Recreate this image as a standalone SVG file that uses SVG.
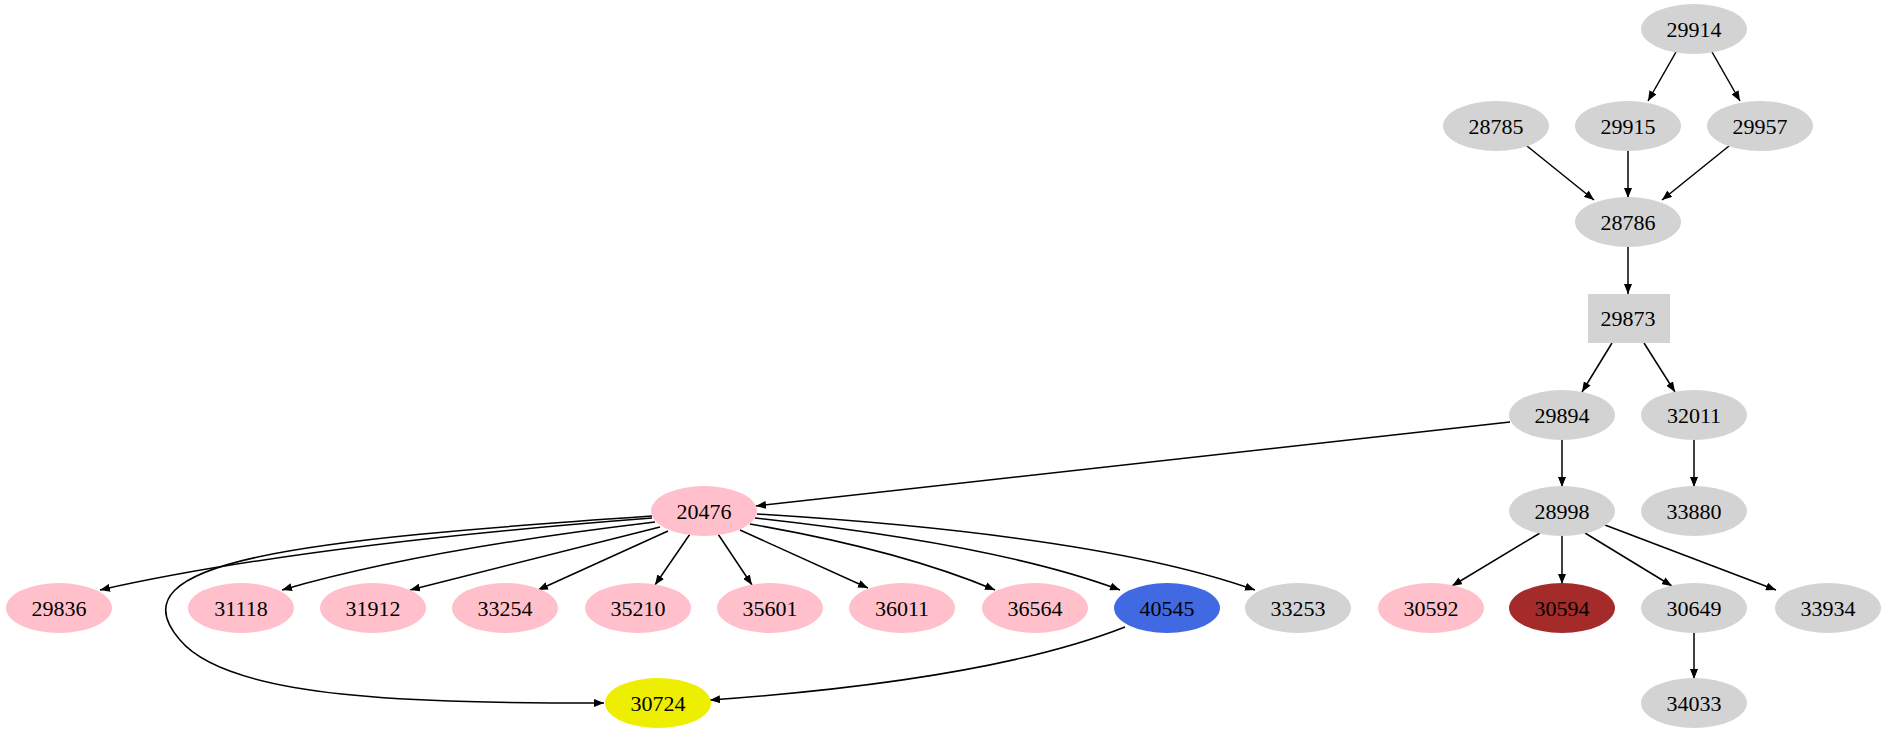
<svg xmlns="http://www.w3.org/2000/svg" width="1883" height="731" viewBox="0 0 1883 731">
<style>
text{font-family:"Liberation Serif","Times New Roman",serif;font-size:22px;text-anchor:middle;dominant-baseline:central;fill:#000}
.g{fill:#d3d3d3}.p{fill:#ffc0cb}
#edges path{fill:none;stroke:#000;stroke-width:1.5;marker-end:url(#a)}
</style>
<defs><marker id="a" markerWidth="10" markerHeight="8" refX="10" refY="4" orient="auto" markerUnits="userSpaceOnUse"><path d="M0,0L10,4L0,8z" fill="#000"/></marker></defs>
<rect width="1883" height="731" fill="#fff"/>
<g id="edges">
<path d="M1676,52L1648,101"/><path d="M1712,52L1740,101"/>
<path d="M1527,146L1594,200"/><path d="M1628,150L1628,198"/><path d="M1729,146L1662,200"/>
<path d="M1628,246L1628,294"/>
<path d="M1612,343L1582,392"/><path d="M1644,343L1675,392"/>
<path d="M1510,422L756,506"/>
<path d="M1562,439L1562,487"/><path d="M1694,439L1694,487"/>
<path d="M1540,533L1452,586"/><path d="M1562,535L1562,584"/><path d="M1585,533L1672,586"/><path d="M1605,525L1776,590"/>
<path d="M1694,632L1694,679"/>
<path d="M652,518Q300,545 100,590"/>
<path d="M655,522Q420,550 282,590"/>
<path d="M660,527L410,590"/>
<path d="M668,531L538,590"/>
<path d="M690,534L655,585"/>
<path d="M718,534L752,585"/>
<path d="M740,530L868,588"/>
<path d="M750,524Q900,550 995,590"/>
<path d="M755,518Q1000,545 1120,590"/>
<path d="M757,514Q1100,535 1255,590"/>
<path d="M652,516C300,540 110,560 180,640C230,700 420,703 604,703"/>
<path d="M1125,627Q990,680 710,700"/>
</g>
<g id="n29914"><ellipse class="g" cx="1694" cy="29" rx="53" ry="25"/><text x="1694" y="29">29914</text></g>
<g id="n28785"><ellipse class="g" cx="1496" cy="126" rx="53" ry="25"/><text x="1496" y="126">28785</text></g>
<g id="n29915"><ellipse class="g" cx="1628" cy="126" rx="53" ry="25"/><text x="1628" y="126">29915</text></g>
<g id="n29957"><ellipse class="g" cx="1760" cy="126" rx="53" ry="25"/><text x="1760" y="126">29957</text></g>
<g id="n28786"><ellipse class="g" cx="1628" cy="222" rx="53" ry="25"/><text x="1628" y="222">28786</text></g>
<g id="n29873"><rect class="g" x="1588" y="294" width="82" height="49"/><text x="1628" y="318">29873</text></g>
<g id="n29894"><ellipse class="g" cx="1562" cy="415" rx="53" ry="25"/><text x="1562" y="415">29894</text></g>
<g id="n32011"><ellipse class="g" cx="1694" cy="415" rx="53" ry="25"/><text x="1694" y="415">32011</text></g>
<g id="n20476"><ellipse class="p" cx="704" cy="511" rx="53" ry="25"/><text x="704" y="511">20476</text></g>
<g id="n28998"><ellipse class="g" cx="1562" cy="511" rx="53" ry="25"/><text x="1562" y="511">28998</text></g>
<g id="n33880"><ellipse class="g" cx="1694" cy="511" rx="53" ry="25"/><text x="1694" y="511">33880</text></g>
<g id="n29836"><ellipse class="p" cx="59" cy="608" rx="53" ry="25"/><text x="59" y="608">29836</text></g>
<g id="n31118"><ellipse class="p" cx="241" cy="608" rx="53" ry="25"/><text x="241" y="608">31118</text></g>
<g id="n31912"><ellipse class="p" cx="373" cy="608" rx="53" ry="25"/><text x="373" y="608">31912</text></g>
<g id="n33254"><ellipse class="p" cx="505" cy="608" rx="53" ry="25"/><text x="505" y="608">33254</text></g>
<g id="n35210"><ellipse class="p" cx="638" cy="608" rx="53" ry="25"/><text x="638" y="608">35210</text></g>
<g id="n35601"><ellipse class="p" cx="770" cy="608" rx="53" ry="25"/><text x="770" y="608">35601</text></g>
<g id="n36011"><ellipse class="p" cx="902" cy="608" rx="53" ry="25"/><text x="902" y="608">36011</text></g>
<g id="n36564"><ellipse class="p" cx="1035" cy="608" rx="53" ry="25"/><text x="1035" y="608">36564</text></g>
<g id="n40545"><ellipse fill="#4169e1" cx="1167" cy="608" rx="53" ry="25"/><text x="1167" y="608">40545</text></g>
<g id="n33253"><ellipse class="g" cx="1298" cy="608" rx="53" ry="25"/><text x="1298" y="608">33253</text></g>
<g id="n30592"><ellipse class="p" cx="1431" cy="608" rx="53" ry="25"/><text x="1431" y="608">30592</text></g>
<g id="n30594"><ellipse fill="#a52a2a" cx="1562" cy="608" rx="53" ry="25"/><text x="1562" y="608">30594</text></g>
<g id="n30649"><ellipse class="g" cx="1694" cy="608" rx="53" ry="25"/><text x="1694" y="608">30649</text></g>
<g id="n33934"><ellipse class="g" cx="1828" cy="608" rx="53" ry="25"/><text x="1828" y="608">33934</text></g>
<g id="n30724"><ellipse fill="#eeee00" cx="658" cy="703" rx="53" ry="25"/><text x="658" y="703">30724</text></g>
<g id="n34033"><ellipse class="g" cx="1694" cy="703" rx="53" ry="25"/><text x="1694" y="703">34033</text></g>
</svg>
